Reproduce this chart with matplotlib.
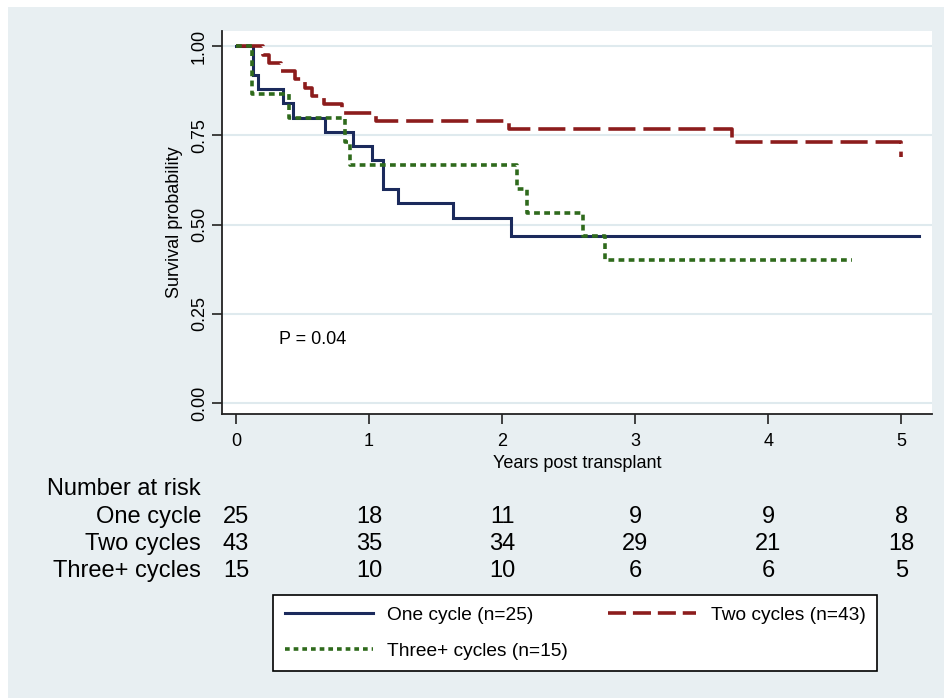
import matplotlib
matplotlib.use('Agg')
import matplotlib.pyplot as plt
import matplotlib.transforms as mtransforms
from matplotlib.lines import Line2D
from matplotlib.patches import Rectangle

plt.rcParams['font.family'] = ['Liberation Sans', 'DejaVu Sans']

# Kaplan-Meier step data
one_t = [0, 0.13, 0.165, 0.35, 0.43, 0.67, 0.88, 1.02, 1.105, 1.22, 1.63, 2.07, 5.13]
one_s = [1.0, 0.92, 0.88, 0.84, 0.80, 0.76, 0.72, 0.68, 0.60, 0.56, 0.52, 0.468, 0.468]

two_t = [0, 0.2, 0.25, 0.34, 0.44, 0.52, 0.57, 0.66, 0.80, 1.05, 2.05, 3.73, 5.0]
two_s = [1.0, 0.977, 0.953, 0.930, 0.907, 0.884, 0.860, 0.837, 0.814, 0.791, 0.767, 0.733, 0.69]

three_t = [0, 0.12, 0.40, 0.82, 0.86, 2.11, 2.19, 2.61, 2.77, 4.63]
three_s = [1.0, 0.867, 0.80, 0.733, 0.667, 0.60, 0.533, 0.467, 0.40, 0.40]

# number at risk table
risk_times = [0, 1, 2, 3, 4, 5]
risk_labels = ['One cycle', 'Two cycles', 'Three+ cycles']
risk_one = [25, 18, 11, 9, 9, 8]
risk_two = [43, 35, 34, 29, 21, 18]
risk_three = [15, 10, 10, 6, 6, 5]

legend_labels = ['One cycle (n=25)', 'Two cycles (n=43)', 'Three+ cycles (n=15)']

bg = '#e8eff2'
c_one = '#1b2a5c'
c_two = '#8c1c1c'
c_three = '#2f6a1c'

W, H = 944, 698
fig = plt.figure(figsize=(W / 100, H / 100), dpi=100, facecolor='white')
fig.patches.append(Rectangle((8 / W, 0), 1, 1 - 7 / H, transform=fig.transFigure,
                             facecolor=bg, edgecolor='none', zorder=-10))

ax = fig.add_axes([222 / W, 1 - 414 / H, (932 - 222) / W, (414 - 31) / H])
ax.set_facecolor('white')

ax.step(one_t, one_s, where='post', color=c_one, lw=2.2, solid_joinstyle='miter')
ax.step(two_t, two_s, where='post', color=c_two, lw=2.6, dashes=(7.5, 2.2))
ax.step(three_t, three_s, where='post', color=c_three, lw=2.6, dashes=(1.6, 1.2))

ax.set_xlim(-0.105, 5.23)
ax.set_ylim(-0.031, 1.043)
ax.set_xticks(risk_times)
ax.set_yticks([0, 0.25, 0.5, 0.75, 1.0])
ax.set_yticklabels(['0.00', '0.25', '0.50', '0.75', '1.00'], rotation=90, va='center')
ax.tick_params(axis='both', labelsize=13, length=7, width=1.2, color='#222222')
ax.tick_params(axis='x', pad=7)
ax.tick_params(axis='y', pad=3)
ax.grid(axis='y', color='#dfeaee', lw=1.5)
ax.set_axisbelow(True)
for s in ['top', 'right']:
    ax.spines[s].set_visible(False)
for s in ['left', 'bottom']:
    ax.spines[s].set_linewidth(1.3)
    ax.spines[s].set_color('#222222')

ax.set_xlabel('Years post transplant', fontsize=13, labelpad=3)
ax.set_ylabel('Survival probability', fontsize=13, labelpad=6)

ax.text(0.32, 0.177, 'P = 0.04', fontsize=13, ha='left', va='center')

# number at risk
trans = mtransforms.blended_transform_factory(ax.transData, fig.transFigure)
fig.text(201 / W, 1 - 489 / H, 'Number at risk', fontsize=17, ha='right', va='center')
for lab, vals, ypx in zip(risk_labels, [risk_one, risk_two, risk_three], [517, 544, 571]):
    fig.text(201 / W, 1 - ypx / H, lab, fontsize=17, ha='right', va='center')
    for t, v in zip(risk_times, vals):
        ax.text(t, 1 - ypx / H, str(v), transform=trans, fontsize=17,
                ha='center', va='center', clip_on=False)

# legend
h_one = Line2D([], [], color=c_one, lw=2.2)
h_two = Line2D([], [], color=c_two, lw=2.6, dashes=(5.0, 1.9))
h_three = Line2D([], [], color=c_three, lw=2.6, dashes=(1.3, 1.1))
leg = fig.legend([h_one, h_three, h_two], [legend_labels[0], legend_labels[2], legend_labels[1]],
                 ncol=2, loc='upper left', bbox_to_anchor=(273 / W, 1 - 595 / H),
                 borderaxespad=0, fontsize=13.8, frameon=True, fancybox=False,
                 handlelength=4.6, handletextpad=0.75, columnspacing=2.1,
                 borderpad=0.6, labelspacing=0.95)
leg.get_frame().set_edgecolor('black')
leg.get_frame().set_linewidth(1.2)
leg.get_frame().set_facecolor('white')
leg.get_frame().set_alpha(1)

fig.savefig('out.png', dpi=100, facecolor='white')
